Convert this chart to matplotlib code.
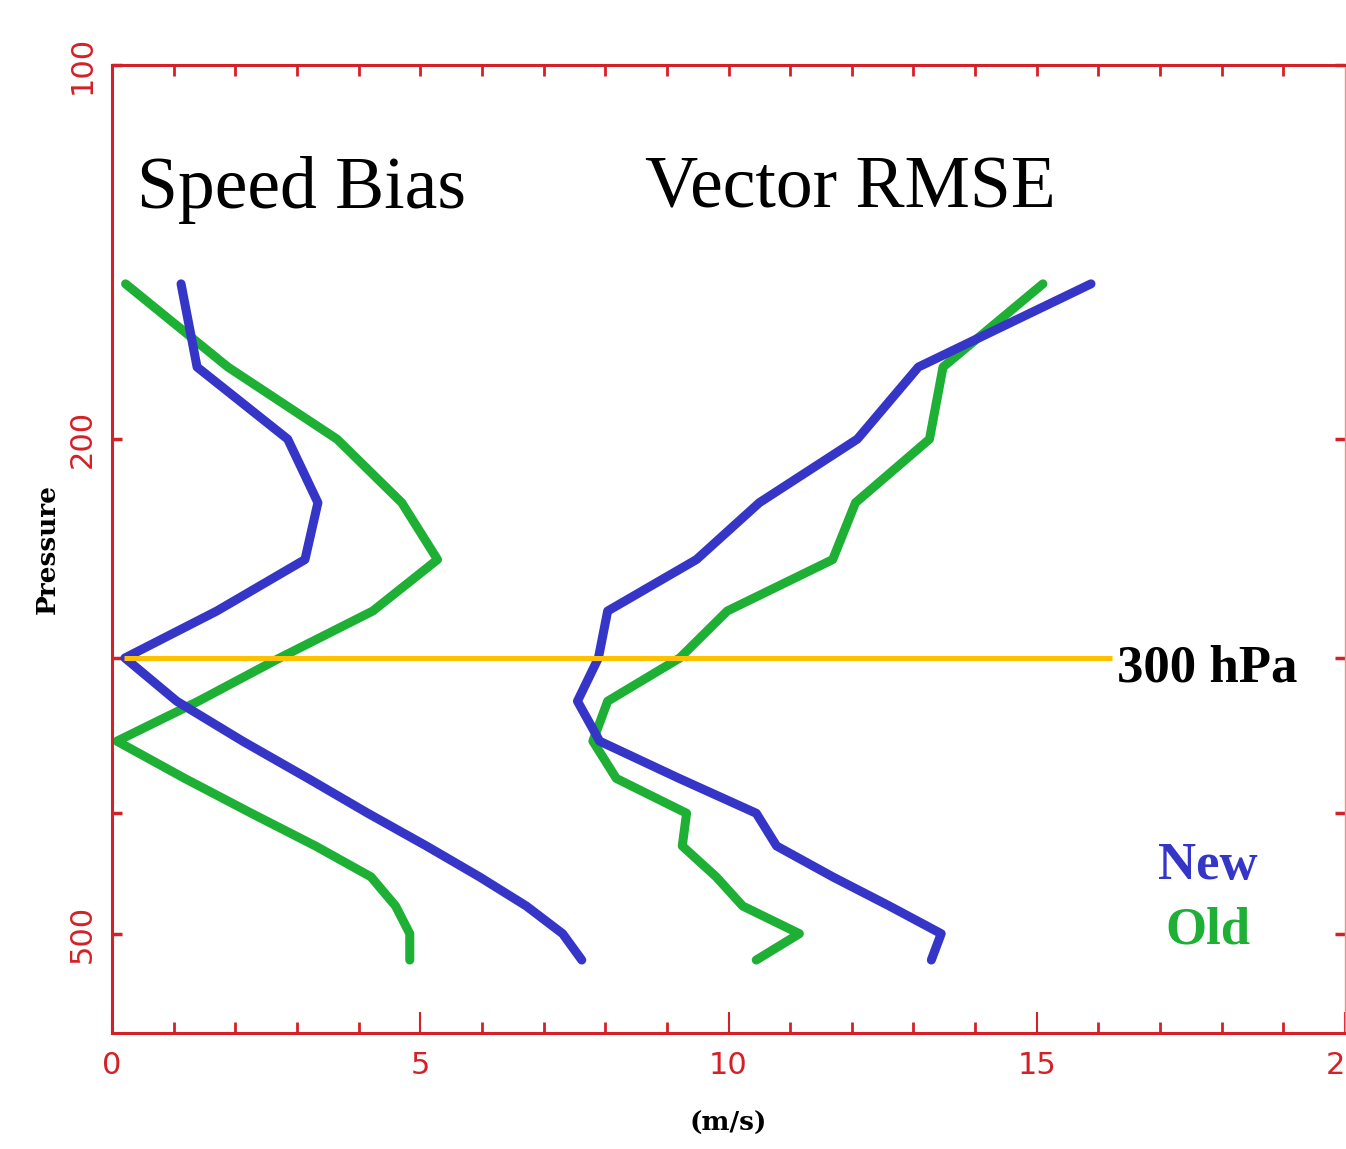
import matplotlib
matplotlib.use("Agg")
import matplotlib.pyplot as plt
from matplotlib.ticker import FixedLocator, NullFormatter, FixedFormatter

# Pressure levels (hPa)
pressure = [150, 175, 200, 225, 250, 275, 300, 325, 350, 375, 400, 425, 450, 475, 500, 525]

# Speed bias (m/s)
bias_new = [1.12, 1.38, 2.85, 3.34, 3.13, 1.70, 0.21, 1.05, 2.12, 3.18, 4.15, 5.10, 5.96, 6.72, 7.31, 7.62]
bias_old = [0.22, 1.88, 3.65, 4.70, 5.28, 4.23, 2.72, 1.40, 0.08, 1.18, 2.26, 3.30, 4.20, 4.60, 4.83, 4.83]

# Vector RMSE (m/s)
rmse_new = [15.88, 13.08, 12.09, 10.50, 9.48, 8.04, 7.89, 7.55, 7.91, 9.20, 10.45, 10.78, 11.69, 12.61, 13.45, 13.29]
rmse_old = [15.10, 13.48, 13.26, 12.06, 11.69, 9.98, 9.21, 8.04, 7.80, 8.18, 9.32, 9.25, 9.80, 10.23, 11.15, 10.45]

# Reference line
ref_pressure = 300
ref_x = [0.2, 16.22]

xticks_major = [0, 5, 10, 15, 20]
xtick_labels = ["0", "5", "10", "15", "20"]
yticks_major = [100, 200, 500]
ytick_labels = ["100", "200", "500"]
yticks_minor = [300, 400]

RED = "#d42027"
BLUE = "#3535c8"
GREEN = "#1db034"
YELLOW = "#ffc000"

fig = plt.figure(figsize=(13.46, 11.49), dpi=100)
ax = fig.add_axes([112 / 1346, (1149 - 1033) / 1149, 1233 / 1346, 968 / 1149])

ax.set_yscale("log")
ax.set_ylim(601, 100)
ax.set_xlim(0, 20)

lw = 6.5
ax.plot(bias_old, pressure, color=GREEN, lw=lw, solid_joinstyle="round", solid_capstyle="round")
ax.plot(bias_new, pressure, color=BLUE, lw=lw, solid_joinstyle="round", solid_capstyle="round")
ax.plot(rmse_old, pressure, color=GREEN, lw=lw, solid_joinstyle="round", solid_capstyle="round")
ax.plot(rmse_new, pressure, color=BLUE, lw=lw, solid_joinstyle="round", solid_capstyle="round")
ax.plot(ref_x, [ref_pressure, ref_pressure], color=YELLOW, lw=3.6, solid_capstyle="butt")

# Spines
for s in ["left", "bottom", "top"]:
    ax.spines[s].set_color(RED)
    ax.spines[s].set_linewidth(2.2)
ax.spines["right"].set_color("#ee9090")
ax.spines["right"].set_linewidth(1.0)

# X ticks
ax.xaxis.set_major_locator(FixedLocator(xticks_major))
ax.xaxis.set_major_formatter(FixedFormatter(xtick_labels))
ax.xaxis.set_minor_locator(FixedLocator([i for i in range(1, 20) if i % 5 != 0]))
ax.tick_params(axis="x", which="major", direction="in", length=15, width=1.5,
               color=RED, labelcolor=RED, labelsize=22, pad=13, top=False)
ax.tick_params(axis="x", which="minor", direction="in", length=8, width=2,
               color=RED, top=False)

# top ticks
sec = ax.secondary_xaxis("top")
sec.xaxis.set_major_locator(FixedLocator(list(range(1, 20))))
sec.tick_params(direction="in", length=8, width=2, color=RED, labeltop=False)
sec.spines["top"].set_visible(False)

# Y ticks
ax.yaxis.set_major_locator(FixedLocator(yticks_major))
ax.yaxis.set_major_formatter(FixedFormatter(ytick_labels))
ax.yaxis.set_minor_locator(FixedLocator(yticks_minor))
ax.yaxis.set_minor_formatter(NullFormatter())
ax.tick_params(axis="y", which="both", direction="in", length=7, width=2.5,
               color=RED, labelcolor=RED, labelsize=22, pad=11, right=True)
for lab in ax.get_yticklabels():
    lab.set_rotation(90)
    lab.set_va("center")

ax.set_xlabel("(m/s)", fontsize=19, fontweight="bold", family="DejaVu Serif", labelpad=22)
ax.set_ylabel("Pressure", fontsize=19, fontweight="bold", family="DejaVu Serif", labelpad=6)

serif = "Liberation Serif"
ax.text(0.4, 126, "Speed Bias", fontsize=53, family=serif, color="black", va="center", ha="left")
ax.text(8.65, 126, "Vector RMSE", fontsize=53, family=serif, color="black", va="center", ha="left")
ax.text(16.3, 306, "300 hPa", fontsize=38, family=serif, fontweight="bold", color="black", va="center", ha="left")
ax.text(17.78, 441, "New", fontsize=38, family=serif, fontweight="bold", color=BLUE, va="center", ha="center")
ax.text(17.78, 497, "Old", fontsize=38, family=serif, fontweight="bold", color=GREEN, va="center", ha="center")

fig.savefig("out.png", dpi=100)
